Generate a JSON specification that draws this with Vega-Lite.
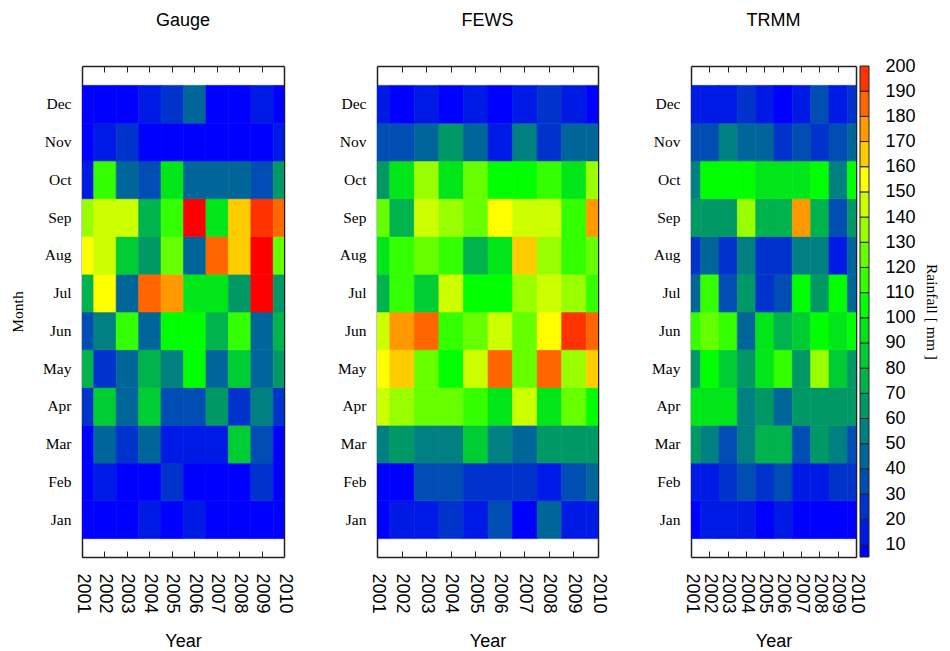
{
  "$schema": "https://vega.github.io/schema/vega-lite/v6.json",
  "background": "white",
  "padding": {"left": 10, "top": 11, "right": 5, "bottom": 0},
  "config": {
    "view": {"stroke": null},
    "axis": {"zindex": 1, "domainColor": "#222", "domainWidth": 1.5, "tickColor": "#222", "tickWidth": 1, "labelColor": "#000", "titleColor": "#000", "grid": false, "titleFontWeight": "normal"},
    "title": {"font": "Liberation Sans", "fontSize": 18, "fontWeight": "normal", "color": "#000", "frame": "group", "anchor": "middle"}
  },
  "datasets": {
    "gauge": [
      {"year":2001,"month":1,"rain":5},{"year":2002,"month":1,"rain":5},{"year":2003,"month":1,"rain":5},{"year":2004,"month":1,"rain":15},{"year":2005,"month":1,"rain":5},{"year":2006,"month":1,"rain":15},{"year":2007,"month":1,"rain":5},{"year":2008,"month":1,"rain":5},{"year":2009,"month":1,"rain":5},{"year":2010,"month":1,"rain":5},
      {"year":2001,"month":2,"rain":5},{"year":2002,"month":2,"rain":15},{"year":2003,"month":2,"rain":5},{"year":2004,"month":2,"rain":5},{"year":2005,"month":2,"rain":25},{"year":2006,"month":2,"rain":5},{"year":2007,"month":2,"rain":5},{"year":2008,"month":2,"rain":5},{"year":2009,"month":2,"rain":25},{"year":2010,"month":2,"rain":5},
      {"year":2001,"month":3,"rain":5},{"year":2002,"month":3,"rain":45},{"year":2003,"month":3,"rain":25},{"year":2004,"month":3,"rain":45},{"year":2005,"month":3,"rain":15},{"year":2006,"month":3,"rain":15},{"year":2007,"month":3,"rain":15},{"year":2008,"month":3,"rain":85},{"year":2009,"month":3,"rain":35},{"year":2010,"month":3,"rain":5},
      {"year":2001,"month":4,"rain":25},{"year":2002,"month":4,"rain":85},{"year":2003,"month":4,"rain":45},{"year":2004,"month":4,"rain":85},{"year":2005,"month":4,"rain":35},{"year":2006,"month":4,"rain":35},{"year":2007,"month":4,"rain":65},{"year":2008,"month":4,"rain":25},{"year":2009,"month":4,"rain":55},{"year":2010,"month":4,"rain":25},
      {"year":2001,"month":5,"rain":75},{"year":2002,"month":5,"rain":25},{"year":2003,"month":5,"rain":45},{"year":2004,"month":5,"rain":75},{"year":2005,"month":5,"rain":55},{"year":2006,"month":5,"rain":105},{"year":2007,"month":5,"rain":45},{"year":2008,"month":5,"rain":85},{"year":2009,"month":5,"rain":45},{"year":2010,"month":5,"rain":65},
      {"year":2001,"month":6,"rain":35},{"year":2002,"month":6,"rain":55},{"year":2003,"month":6,"rain":115},{"year":2004,"month":6,"rain":45},{"year":2005,"month":6,"rain":105},{"year":2006,"month":6,"rain":105},{"year":2007,"month":6,"rain":75},{"year":2008,"month":6,"rain":115},{"year":2009,"month":6,"rain":45},{"year":2010,"month":6,"rain":75},
      {"year":2001,"month":7,"rain":75},{"year":2002,"month":7,"rain":155},{"year":2003,"month":7,"rain":45},{"year":2004,"month":7,"rain":185},{"year":2005,"month":7,"rain":175},{"year":2006,"month":7,"rain":95},{"year":2007,"month":7,"rain":95},{"year":2008,"month":7,"rain":65},{"year":2009,"month":7,"rain":210},{"year":2010,"month":7,"rain":65},
      {"year":2001,"month":8,"rain":155},{"year":2002,"month":8,"rain":145},{"year":2003,"month":8,"rain":85},{"year":2004,"month":8,"rain":65},{"year":2005,"month":8,"rain":125},{"year":2006,"month":8,"rain":45},{"year":2007,"month":8,"rain":185},{"year":2008,"month":8,"rain":165},{"year":2009,"month":8,"rain":210},{"year":2010,"month":8,"rain":125},
      {"year":2001,"month":9,"rain":135},{"year":2002,"month":9,"rain":145},{"year":2003,"month":9,"rain":145},{"year":2004,"month":9,"rain":75},{"year":2005,"month":9,"rain":115},{"year":2006,"month":9,"rain":210},{"year":2007,"month":9,"rain":95},{"year":2008,"month":9,"rain":165},{"year":2009,"month":9,"rain":195},{"year":2010,"month":9,"rain":185},
      {"year":2001,"month":10,"rain":15},{"year":2002,"month":10,"rain":115},{"year":2003,"month":10,"rain":45},{"year":2004,"month":10,"rain":35},{"year":2005,"month":10,"rain":95},{"year":2006,"month":10,"rain":45},{"year":2007,"month":10,"rain":45},{"year":2008,"month":10,"rain":45},{"year":2009,"month":10,"rain":35},{"year":2010,"month":10,"rain":65},
      {"year":2001,"month":11,"rain":5},{"year":2002,"month":11,"rain":15},{"year":2003,"month":11,"rain":25},{"year":2004,"month":11,"rain":5},{"year":2005,"month":11,"rain":5},{"year":2006,"month":11,"rain":5},{"year":2007,"month":11,"rain":5},{"year":2008,"month":11,"rain":5},{"year":2009,"month":11,"rain":5},{"year":2010,"month":11,"rain":15},
      {"year":2001,"month":12,"rain":5},{"year":2002,"month":12,"rain":5},{"year":2003,"month":12,"rain":5},{"year":2004,"month":12,"rain":15},{"year":2005,"month":12,"rain":25},{"year":2006,"month":12,"rain":45},{"year":2007,"month":12,"rain":5},{"year":2008,"month":12,"rain":5},{"year":2009,"month":12,"rain":15},{"year":2010,"month":12,"rain":5}
    ],
    "fews": [
      {"year":2001,"month":1,"rain":5},{"year":2002,"month":1,"rain":15},{"year":2003,"month":1,"rain":15},{"year":2004,"month":1,"rain":25},{"year":2005,"month":1,"rain":15},{"year":2006,"month":1,"rain":35},{"year":2007,"month":1,"rain":5},{"year":2008,"month":1,"rain":45},{"year":2009,"month":1,"rain":15},{"year":2010,"month":1,"rain":15},
      {"year":2001,"month":2,"rain":5},{"year":2002,"month":2,"rain":5},{"year":2003,"month":2,"rain":35},{"year":2004,"month":2,"rain":35},{"year":2005,"month":2,"rain":25},{"year":2006,"month":2,"rain":25},{"year":2007,"month":2,"rain":25},{"year":2008,"month":2,"rain":15},{"year":2009,"month":2,"rain":35},{"year":2010,"month":2,"rain":45},
      {"year":2001,"month":3,"rain":55},{"year":2002,"month":3,"rain":65},{"year":2003,"month":3,"rain":55},{"year":2004,"month":3,"rain":55},{"year":2005,"month":3,"rain":85},{"year":2006,"month":3,"rain":55},{"year":2007,"month":3,"rain":45},{"year":2008,"month":3,"rain":65},{"year":2009,"month":3,"rain":65},{"year":2010,"month":3,"rain":65},
      {"year":2001,"month":4,"rain":145},{"year":2002,"month":4,"rain":135},{"year":2003,"month":4,"rain":125},{"year":2004,"month":4,"rain":125},{"year":2005,"month":4,"rain":115},{"year":2006,"month":4,"rain":95},{"year":2007,"month":4,"rain":145},{"year":2008,"month":4,"rain":95},{"year":2009,"month":4,"rain":125},{"year":2010,"month":4,"rain":105},
      {"year":2001,"month":5,"rain":155},{"year":2002,"month":5,"rain":165},{"year":2003,"month":5,"rain":125},{"year":2004,"month":5,"rain":105},{"year":2005,"month":5,"rain":145},{"year":2006,"month":5,"rain":185},{"year":2007,"month":5,"rain":125},{"year":2008,"month":5,"rain":185},{"year":2009,"month":5,"rain":135},{"year":2010,"month":5,"rain":165},
      {"year":2001,"month":6,"rain":145},{"year":2002,"month":6,"rain":175},{"year":2003,"month":6,"rain":185},{"year":2004,"month":6,"rain":115},{"year":2005,"month":6,"rain":125},{"year":2006,"month":6,"rain":145},{"year":2007,"month":6,"rain":125},{"year":2008,"month":6,"rain":155},{"year":2009,"month":6,"rain":195},{"year":2010,"month":6,"rain":185},
      {"year":2001,"month":7,"rain":75},{"year":2002,"month":7,"rain":115},{"year":2003,"month":7,"rain":85},{"year":2004,"month":7,"rain":145},{"year":2005,"month":7,"rain":105},{"year":2006,"month":7,"rain":105},{"year":2007,"month":7,"rain":135},{"year":2008,"month":7,"rain":145},{"year":2009,"month":7,"rain":135},{"year":2010,"month":7,"rain":115},
      {"year":2001,"month":8,"rain":95},{"year":2002,"month":8,"rain":115},{"year":2003,"month":8,"rain":125},{"year":2004,"month":8,"rain":115},{"year":2005,"month":8,"rain":75},{"year":2006,"month":8,"rain":95},{"year":2007,"month":8,"rain":165},{"year":2008,"month":8,"rain":135},{"year":2009,"month":8,"rain":115},{"year":2010,"month":8,"rain":125},
      {"year":2001,"month":9,"rain":125},{"year":2002,"month":9,"rain":75},{"year":2003,"month":9,"rain":145},{"year":2004,"month":9,"rain":135},{"year":2005,"month":9,"rain":125},{"year":2006,"month":9,"rain":155},{"year":2007,"month":9,"rain":145},{"year":2008,"month":9,"rain":145},{"year":2009,"month":9,"rain":115},{"year":2010,"month":9,"rain":175},
      {"year":2001,"month":10,"rain":65},{"year":2002,"month":10,"rain":95},{"year":2003,"month":10,"rain":135},{"year":2004,"month":10,"rain":95},{"year":2005,"month":10,"rain":125},{"year":2006,"month":10,"rain":105},{"year":2007,"month":10,"rain":105},{"year":2008,"month":10,"rain":115},{"year":2009,"month":10,"rain":95},{"year":2010,"month":10,"rain":135},
      {"year":2001,"month":11,"rain":35},{"year":2002,"month":11,"rain":35},{"year":2003,"month":11,"rain":45},{"year":2004,"month":11,"rain":65},{"year":2005,"month":11,"rain":45},{"year":2006,"month":11,"rain":15},{"year":2007,"month":11,"rain":55},{"year":2008,"month":11,"rain":25},{"year":2009,"month":11,"rain":45},{"year":2010,"month":11,"rain":45},
      {"year":2001,"month":12,"rain":15},{"year":2002,"month":12,"rain":5},{"year":2003,"month":12,"rain":15},{"year":2004,"month":12,"rain":5},{"year":2005,"month":12,"rain":15},{"year":2006,"month":12,"rain":5},{"year":2007,"month":12,"rain":15},{"year":2008,"month":12,"rain":25},{"year":2009,"month":12,"rain":15},{"year":2010,"month":12,"rain":5}
    ],
    "trmm": [
      {"year":2001,"month":1,"rain":5},{"year":2002,"month":1,"rain":15},{"year":2003,"month":1,"rain":15},{"year":2004,"month":1,"rain":15},{"year":2005,"month":1,"rain":5},{"year":2006,"month":1,"rain":15},{"year":2007,"month":1,"rain":5},{"year":2008,"month":1,"rain":5},{"year":2009,"month":1,"rain":5},{"year":2010,"month":1,"rain":5},
      {"year":2001,"month":2,"rain":15},{"year":2002,"month":2,"rain":15},{"year":2003,"month":2,"rain":25},{"year":2004,"month":2,"rain":35},{"year":2005,"month":2,"rain":25},{"year":2006,"month":2,"rain":35},{"year":2007,"month":2,"rain":15},{"year":2008,"month":2,"rain":15},{"year":2009,"month":2,"rain":25},{"year":2010,"month":2,"rain":25},
      {"year":2001,"month":3,"rain":65},{"year":2002,"month":3,"rain":55},{"year":2003,"month":3,"rain":35},{"year":2004,"month":3,"rain":55},{"year":2005,"month":3,"rain":75},{"year":2006,"month":3,"rain":75},{"year":2007,"month":3,"rain":35},{"year":2008,"month":3,"rain":65},{"year":2009,"month":3,"rain":55},{"year":2010,"month":3,"rain":35},
      {"year":2001,"month":4,"rain":95},{"year":2002,"month":4,"rain":95},{"year":2003,"month":4,"rain":95},{"year":2004,"month":4,"rain":55},{"year":2005,"month":4,"rain":65},{"year":2006,"month":4,"rain":45},{"year":2007,"month":4,"rain":65},{"year":2008,"month":4,"rain":65},{"year":2009,"month":4,"rain":65},{"year":2010,"month":4,"rain":65},
      {"year":2001,"month":5,"rain":65},{"year":2002,"month":5,"rain":105},{"year":2003,"month":5,"rain":85},{"year":2004,"month":5,"rain":65},{"year":2005,"month":5,"rain":95},{"year":2006,"month":5,"rain":115},{"year":2007,"month":5,"rain":65},{"year":2008,"month":5,"rain":135},{"year":2009,"month":5,"rain":85},{"year":2010,"month":5,"rain":65},
      {"year":2001,"month":6,"rain":115},{"year":2002,"month":6,"rain":125},{"year":2003,"month":6,"rain":115},{"year":2004,"month":6,"rain":45},{"year":2005,"month":6,"rain":95},{"year":2006,"month":6,"rain":75},{"year":2007,"month":6,"rain":85},{"year":2008,"month":6,"rain":105},{"year":2009,"month":6,"rain":95},{"year":2010,"month":6,"rain":105},
      {"year":2001,"month":7,"rain":45},{"year":2002,"month":7,"rain":115},{"year":2003,"month":7,"rain":35},{"year":2004,"month":7,"rain":65},{"year":2005,"month":7,"rain":25},{"year":2006,"month":7,"rain":35},{"year":2007,"month":7,"rain":105},{"year":2008,"month":7,"rain":65},{"year":2009,"month":7,"rain":105},{"year":2010,"month":7,"rain":45},
      {"year":2001,"month":8,"rain":25},{"year":2002,"month":8,"rain":45},{"year":2003,"month":8,"rain":25},{"year":2004,"month":8,"rain":55},{"year":2005,"month":8,"rain":25},{"year":2006,"month":8,"rain":25},{"year":2007,"month":8,"rain":55},{"year":2008,"month":8,"rain":55},{"year":2009,"month":8,"rain":15},{"year":2010,"month":8,"rain":45},
      {"year":2001,"month":9,"rain":65},{"year":2002,"month":9,"rain":65},{"year":2003,"month":9,"rain":65},{"year":2004,"month":9,"rain":135},{"year":2005,"month":9,"rain":75},{"year":2006,"month":9,"rain":75},{"year":2007,"month":9,"rain":175},{"year":2008,"month":9,"rain":75},{"year":2009,"month":9,"rain":35},{"year":2010,"month":9,"rain":65},
      {"year":2001,"month":10,"rain":55},{"year":2002,"month":10,"rain":105},{"year":2003,"month":10,"rain":105},{"year":2004,"month":10,"rain":105},{"year":2005,"month":10,"rain":95},{"year":2006,"month":10,"rain":95},{"year":2007,"month":10,"rain":95},{"year":2008,"month":10,"rain":105},{"year":2009,"month":10,"rain":55},{"year":2010,"month":10,"rain":105},
      {"year":2001,"month":11,"rain":35},{"year":2002,"month":11,"rain":35},{"year":2003,"month":11,"rain":55},{"year":2004,"month":11,"rain":45},{"year":2005,"month":11,"rain":45},{"year":2006,"month":11,"rain":25},{"year":2007,"month":11,"rain":35},{"year":2008,"month":11,"rain":25},{"year":2009,"month":11,"rain":35},{"year":2010,"month":11,"rain":45},
      {"year":2001,"month":12,"rain":15},{"year":2002,"month":12,"rain":15},{"year":2003,"month":12,"rain":15},{"year":2004,"month":12,"rain":25},{"year":2005,"month":12,"rain":15},{"year":2006,"month":12,"rain":5},{"year":2007,"month":12,"rain":15},{"year":2008,"month":12,"rain":35},{"year":2009,"month":12,"rain":15},{"year":2010,"month":12,"rain":25}
    ],
    "cbar": [
      {"lo":5,"hi":10},{"lo":10,"hi":20},{"lo":20,"hi":30},{"lo":30,"hi":40},{"lo":40,"hi":50},{"lo":50,"hi":60},{"lo":60,"hi":70},{"lo":70,"hi":80},{"lo":80,"hi":90},{"lo":90,"hi":100},
      {"lo":100,"hi":110},{"lo":110,"hi":120},{"lo":120,"hi":130},{"lo":130,"hi":140},{"lo":140,"hi":150},{"lo":150,"hi":160},{"lo":160,"hi":170},{"lo":170,"hi":180},{"lo":180,"hi":190},{"lo":190,"hi":200}
    ]
  },
  "bounds": "flush",
  "spacing": 93,
  "hconcat": [
    {
      "title": {"text": "Gauge", "offset": 36},
      "width": 202, "height": 491,
      "data": {"name": "gauge"},
      "layer": [
        {
          "mark": {"type": "rect", "clip": true, "strokeWidth": 0.6},
          "encoding": {
            "x": {"field": "year", "type": "quantitative", "bin": {"step": 1, "extent": [2000.5, 2010.5], "nice": false}, "scale": {"domain": [2001, 2010], "nice": false, "zero": false},
                  "axis": {"orient": "bottom", "values": [2001,2002,2003,2004,2005,2006,2007,2008,2009,2010], "format": "d", "labelAngle": 90, "labelAlign": "left", "labelBaseline": "middle", "labelFont": "Liberation Sans", "labelFontSize": 18, "labelPadding": 22, "tickSize": -6, "labelFlush": false, "labelOverlap": false, "title": "Year", "titleFont": "Liberation Sans", "titleFontSize": 18, "titlePadding": 19}},
            "y": {"field": "month", "type": "quantitative", "bin": {"step": 1, "extent": [0.5, 12.5], "nice": false}, "scale": {"domain": [0, 13], "nice": false, "zero": false},
                  "axis": {"orient": "left", "values": [1,2,3,4,5,6,7,8,9,10,11,12], "labelExpr": "['Jan','Feb','Mar','Apr','May','Jun','Jul','Aug','Sep','Oct','Nov','Dec'][datum.value-1]", "ticks": false, "labelFont": "Liberation Serif", "labelFontSize": 15.5, "labelPadding": 11, "labelFlush": false, "labelOverlap": false, "title": "Month", "titleFont": "Liberation Serif", "titleFontSize": 15.5, "titlePadding": 17}},
            "color": {"field": "rain", "type": "quantitative", "legend": null,
                      "scale": {"type": "threshold", "domain": [10,20,30,40,50,60,70,80,90,100,110,120,130,140,150,160,170,180,190,200],
                                "range": ["#0000ff","#001ae6","#0033cc","#004db3","#006699","#008080","#009966","#00b34d","#00cc33","#00e619","#00ff00","#33ff00","#66ff00","#99ff00","#ccff00","#ffff00","#ffcc00","#ff9900","#ff6600","#ff3300","#ff0000"]}},
            "stroke": {"field": "rain", "type": "quantitative", "legend": null,
                      "scale": {"type": "threshold", "domain": [10,20,30,40,50,60,70,80,90,100,110,120,130,140,150,160,170,180,190,200],
                                "range": ["#0000ff","#001ae6","#0033cc","#004db3","#006699","#008080","#009966","#00b34d","#00cc33","#00e619","#00ff00","#33ff00","#66ff00","#99ff00","#ccff00","#ffff00","#ffcc00","#ff9900","#ff6600","#ff3300","#ff0000"]}}
          }
        },
        {
          "mark": {"type": "rect", "opacity": 0},
          "encoding": {
            "x": {"field": "year", "type": "quantitative", "bin": {"step": 1, "extent": [2000.5, 2010.5], "nice": false},
                  "axis": {"orient": "top", "values": [2002,2003,2004,2005,2006,2007,2008,2009], "labels": false, "tickSize": -6, "title": null}},
            "y": {"field": "month", "type": "quantitative", "bin": {"step": 1, "extent": [0.5, 12.5], "nice": false},
                  "axis": {"orient": "right", "ticks": false, "labels": false, "title": null}}
          }
        }
      ],
      "resolve": {"axis": {"x": "independent", "y": "independent"}}
    },
    {
      "title": {"text": "FEWS", "offset": 36},
      "width": 221, "height": 491,
      "data": {"name": "fews"},
      "layer": [
        {
          "mark": {"type": "rect", "clip": true, "strokeWidth": 0.6},
          "encoding": {
            "x": {"field": "year", "type": "quantitative", "bin": {"step": 1, "extent": [2000.5, 2010.5], "nice": false}, "scale": {"domain": [2001, 2010], "nice": false, "zero": false},
                  "axis": {"orient": "bottom", "values": [2001,2002,2003,2004,2005,2006,2007,2008,2009,2010], "format": "d", "labelAngle": 90, "labelAlign": "left", "labelBaseline": "middle", "labelFont": "Liberation Sans", "labelFontSize": 18, "labelPadding": 22, "tickSize": -6, "labelFlush": false, "labelOverlap": false, "title": "Year", "titleFont": "Liberation Sans", "titleFontSize": 18, "titlePadding": 19}},
            "y": {"field": "month", "type": "quantitative", "bin": {"step": 1, "extent": [0.5, 12.5], "nice": false}, "scale": {"domain": [0, 13], "nice": false, "zero": false},
                  "axis": {"orient": "left", "values": [1,2,3,4,5,6,7,8,9,10,11,12], "labelExpr": "['Jan','Feb','Mar','Apr','May','Jun','Jul','Aug','Sep','Oct','Nov','Dec'][datum.value-1]", "ticks": false, "labelFont": "Liberation Serif", "labelFontSize": 15.5, "labelPadding": 11, "labelFlush": false, "labelOverlap": false, "title": null}},
            "color": {"field": "rain", "type": "quantitative", "legend": null,
                      "scale": {"type": "threshold", "domain": [10,20,30,40,50,60,70,80,90,100,110,120,130,140,150,160,170,180,190,200],
                                "range": ["#0000ff","#001ae6","#0033cc","#004db3","#006699","#008080","#009966","#00b34d","#00cc33","#00e619","#00ff00","#33ff00","#66ff00","#99ff00","#ccff00","#ffff00","#ffcc00","#ff9900","#ff6600","#ff3300","#ff0000"]}},
            "stroke": {"field": "rain", "type": "quantitative", "legend": null,
                      "scale": {"type": "threshold", "domain": [10,20,30,40,50,60,70,80,90,100,110,120,130,140,150,160,170,180,190,200],
                                "range": ["#0000ff","#001ae6","#0033cc","#004db3","#006699","#008080","#009966","#00b34d","#00cc33","#00e619","#00ff00","#33ff00","#66ff00","#99ff00","#ccff00","#ffff00","#ffcc00","#ff9900","#ff6600","#ff3300","#ff0000"]}}
          }
        },
        {
          "mark": {"type": "rect", "opacity": 0},
          "encoding": {
            "x": {"field": "year", "type": "quantitative", "bin": {"step": 1, "extent": [2000.5, 2010.5], "nice": false},
                  "axis": {"orient": "top", "values": [2002,2003,2004,2005,2006,2007,2008,2009], "labels": false, "tickSize": -6, "title": null}},
            "y": {"field": "month", "type": "quantitative", "bin": {"step": 1, "extent": [0.5, 12.5], "nice": false},
                  "axis": {"orient": "right", "ticks": false, "labels": false, "title": null}}
          }
        }
      ],
      "resolve": {"axis": {"x": "independent", "y": "independent"}}
    },
    {
      "bounds": "flush",
      "spacing": 4,
      "hconcat": [
        {
          "title": {"text": "TRMM", "offset": 36},
          "width": 165, "height": 491,
          "data": {"name": "trmm"},
          "layer": [
            {
              "mark": {"type": "rect", "clip": true, "strokeWidth": 0.6},
              "encoding": {
                "x": {"field": "year", "type": "quantitative", "bin": {"step": 1, "extent": [2000.5, 2010.5], "nice": false}, "scale": {"domain": [2001, 2010], "nice": false, "zero": false},
                      "axis": {"orient": "bottom", "values": [2001,2002,2003,2004,2005,2006,2007,2008,2009,2010], "format": "d", "labelAngle": 90, "labelAlign": "left", "labelBaseline": "middle", "labelFont": "Liberation Sans", "labelFontSize": 18, "labelPadding": 22, "tickSize": -6, "labelFlush": false, "labelOverlap": false, "title": "Year", "titleFont": "Liberation Sans", "titleFontSize": 18, "titlePadding": 19}},
                "y": {"field": "month", "type": "quantitative", "bin": {"step": 1, "extent": [0.5, 12.5], "nice": false}, "scale": {"domain": [0, 13], "nice": false, "zero": false},
                      "axis": {"orient": "left", "values": [1,2,3,4,5,6,7,8,9,10,11,12], "labelExpr": "['Jan','Feb','Mar','Apr','May','Jun','Jul','Aug','Sep','Oct','Nov','Dec'][datum.value-1]", "ticks": false, "labelFont": "Liberation Serif", "labelFontSize": 15.5, "labelPadding": 11, "labelFlush": false, "labelOverlap": false, "title": null}},
                "color": {"field": "rain", "type": "quantitative", "legend": null,
                          "scale": {"type": "threshold", "domain": [10,20,30,40,50,60,70,80,90,100,110,120,130,140,150,160,170,180,190,200],
                                    "range": ["#0000ff","#001ae6","#0033cc","#004db3","#006699","#008080","#009966","#00b34d","#00cc33","#00e619","#00ff00","#33ff00","#66ff00","#99ff00","#ccff00","#ffff00","#ffcc00","#ff9900","#ff6600","#ff3300","#ff0000"]}},
                "stroke": {"field": "rain", "type": "quantitative", "legend": null,
                          "scale": {"type": "threshold", "domain": [10,20,30,40,50,60,70,80,90,100,110,120,130,140,150,160,170,180,190,200],
                                    "range": ["#0000ff","#001ae6","#0033cc","#004db3","#006699","#008080","#009966","#00b34d","#00cc33","#00e619","#00ff00","#33ff00","#66ff00","#99ff00","#ccff00","#ffff00","#ffcc00","#ff9900","#ff6600","#ff3300","#ff0000"]}}
              }
            },
            {
              "mark": {"type": "rect", "opacity": 0},
              "encoding": {
                "x": {"field": "year", "type": "quantitative", "bin": {"step": 1, "extent": [2000.5, 2010.5], "nice": false},
                      "axis": {"orient": "top", "values": [2002,2003,2004,2005,2006,2007,2008,2009], "labels": false, "tickSize": -6, "title": null}},
                "y": {"field": "month", "type": "quantitative", "bin": {"step": 1, "extent": [0.5, 12.5], "nice": false},
                      "axis": {"orient": "right", "ticks": false, "labels": false, "title": null}}
              }
            }
          ],
          "resolve": {"axis": {"x": "independent", "y": "independent"}}
        },
        {
          "width": 9, "height": 491,
          "data": {"name": "cbar"},
          "mark": {"type": "rect", "stroke": "#222", "strokeWidth": 1},
          "encoding": {
            "x": {"datum": 0, "type": "quantitative", "scale": {"domain": [0, 1], "nice": false, "zero": false}, "axis": null},
            "x2": {"datum": 1},
            "y": {"field": "lo", "type": "quantitative", "scale": {"domain": [5, 200], "nice": false, "zero": false},
                  "axis": {"orient": "right", "values": [10,20,30,40,50,60,70,80,90,100,110,120,130,140,150,160,170,180,190,200], "ticks": false, "domain": false, "labelFont": "Liberation Sans", "labelFontSize": 18, "labelPadding": 16, "labelFlush": false, "labelOverlap": false, "title": "Rainfall [ mm ]", "titleFont": "Liberation Serif", "titleFontSize": 15.5, "titlePadding": 8}},
            "y2": {"field": "hi"},
            "color": {"field": "lo", "type": "quantitative", "legend": null,
                      "scale": {"type": "threshold", "domain": [10,20,30,40,50,60,70,80,90,100,110,120,130,140,150,160,170,180,190,200],
                                "range": ["#0000ff","#001ae6","#0033cc","#004db3","#006699","#008080","#009966","#00b34d","#00cc33","#00e619","#00ff00","#33ff00","#66ff00","#99ff00","#ccff00","#ffff00","#ffcc00","#ff9900","#ff6600","#ff3300","#ff0000"]}}
          }
        }
      ]
    }
  ]
}
